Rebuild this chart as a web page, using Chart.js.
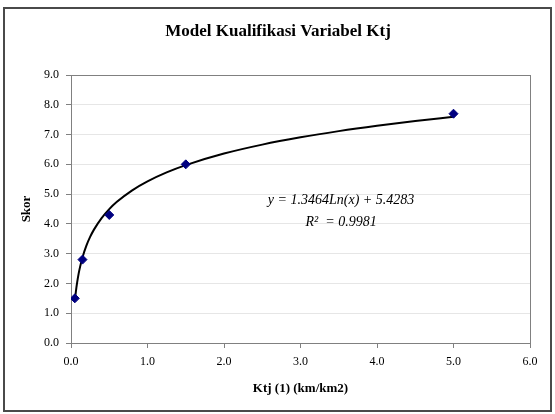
<!DOCTYPE html>
<html><head><meta charset="utf-8">
<script src="https://cdn.jsdelivr.net/npm/chart.js@4/dist/chart.umd.min.js"></script>
<style>html,body{margin:0;padding:0;background:#fff}#wrap{width:555px;height:414px;position:relative}</style>
</head><body><div id="wrap"><canvas id="c" width="555" height="414"></canvas></div>
<script>
// Data
const ktjValues = [0.05, 0.15, 0.5, 1.5, 5.0];
const skorValues = [1.5, 2.8, 4.3, 6.0, 7.7];
const xTickValues = [0, 1, 2, 3, 4, 5, 6];
const yTickValues = [0, 1, 2, 3, 4, 5, 6, 7, 8, 9];
// Logarithmic trendline as shown in the chart: y = a*ln(x) + b
const trendA = 1.3464;
const trendB = 5.4283;
const trendR2 = 0.9981;
const trendSampleX = [0.05, 0.06, 0.07, 0.08, 0.1, 0.12, 0.15, 0.2, 0.25, 0.3, 0.4, 0.5, 0.6, 0.8, 1.0, 1.25, 1.5, 2.0, 2.5, 3.0, 3.5, 4.0, 4.5, 5.0];

const titleText = 'Model Kualifikasi Variabel Ktj';
const xTitle = 'Ktj (1) (km/km2)';
const yTitle = 'Skor';

const pointData = ktjValues.map((x, i) => ({x: x, y: skorValues[i]}));
const trendData = trendSampleX.map(x => ({x: x, y: trendA * Math.log(x) + trendB}));

const SERIF = '"Liberation Serif", "Times New Roman", serif';

const decor = {
  id: 'decor',
  beforeDatasetsDraw(chart) {
    const {ctx, chartArea: a} = chart;
    ctx.save();
    ctx.strokeStyle = '#808080';
    ctx.lineWidth = 1;
    ctx.strokeRect(Math.round(a.left) + 0.5, Math.round(a.top) + 0.5, Math.round(a.right - a.left), Math.round(a.bottom - a.top));
    ctx.restore();
  },
  afterDraw(chart) {
    const {ctx, scales: {x, y}} = chart;
    ctx.save();
    // outer frame
    ctx.strokeStyle = '#4a4a4a';
    ctx.lineWidth = 2;
    ctx.strokeRect(4, 8, 547, 403);
    // chart title
    ctx.fillStyle = '#000';
    ctx.textAlign = 'center';
    ctx.textBaseline = 'middle';
    ctx.font = 'bold 17px ' + SERIF;
    ctx.fillText(titleText, 278, 32);
    // equation
    ctx.font = 'italic 14px ' + SERIF;
    const ex = x.getPixelForValue(3.53);
    ctx.fillText('y = ' + trendA.toFixed(4) + 'Ln(x) + ' + trendB.toFixed(4), ex, y.getPixelForValue(4.79));
    ctx.fillText('R\u00B2  = ' + trendR2.toFixed(4), ex, y.getPixelForValue(4.05));
    ctx.restore();
  }
};

new Chart(document.getElementById('c'), {
  type: 'scatter',
  data: {
    datasets: [
      {
        label: 'Skor',
        data: pointData,
        order: 0,
        pointStyle: 'rectRot',
        pointRadius: 4.5,
        backgroundColor: '#000080',
        borderColor: '#000080',
        borderWidth: 1,
        showLine: false
      },
      {
        label: 'Trend',
        data: trendData,
        order: 1,
        showLine: true,
        borderColor: '#000',
        borderWidth: 2,
        pointRadius: 0,
        cubicInterpolationMode: 'monotone',
        fill: false
      }
    ]
  },
  options: {
    responsive: false,
    animation: false,
    devicePixelRatio: 1,
    layout: {padding: {left: 0, right: 25, top: 75, bottom: 0}},
    plugins: {legend: {display: false}, tooltip: {enabled: false}, title: {display: false}},
    scales: {
      x: {
        type: 'linear',
        position: 'bottom',
        min: 0, max: 6,
        afterBuildTicks: s => { s.ticks = xTickValues.map(v => ({value: v})); },
        afterFit: s => { s.height = 71; },
        ticks: {
          callback: v => Number(v).toFixed(1),
          color: '#000',
          font: {family: SERIF, size: 12},
          padding: 7,
          maxRotation: 0
        },
        grid: {drawOnChartArea: false, tickLength: 5, tickColor: '#808080', color: '#808080'},
        border: {color: '#808080'},
        title: {display: true, text: xTitle, color: '#000', font: {family: SERIF, size: 13, weight: 'bold'}, padding: {top: 0, bottom: 18}}
      },
      y: {
        type: 'linear',
        min: 0, max: 9,
        afterBuildTicks: s => { s.ticks = yTickValues.map(v => ({value: v})); },
        afterFit: s => { s.width = 71; },
        ticks: {
          callback: v => Number(v).toFixed(1),
          color: '#000',
          font: {family: SERIF, size: 12},
          padding: 7
        },
        grid: {color: '#e6e6e6', tickLength: 5, tickColor: '#808080'},
        border: {color: '#808080'},
        title: {display: true, text: yTitle, color: '#000', font: {family: SERIF, size: 13, weight: 'bold'}, padding: {top: 19, bottom: 0}}
      }
    }
  },
  plugins: [decor]
});
</script>
</body></html>
